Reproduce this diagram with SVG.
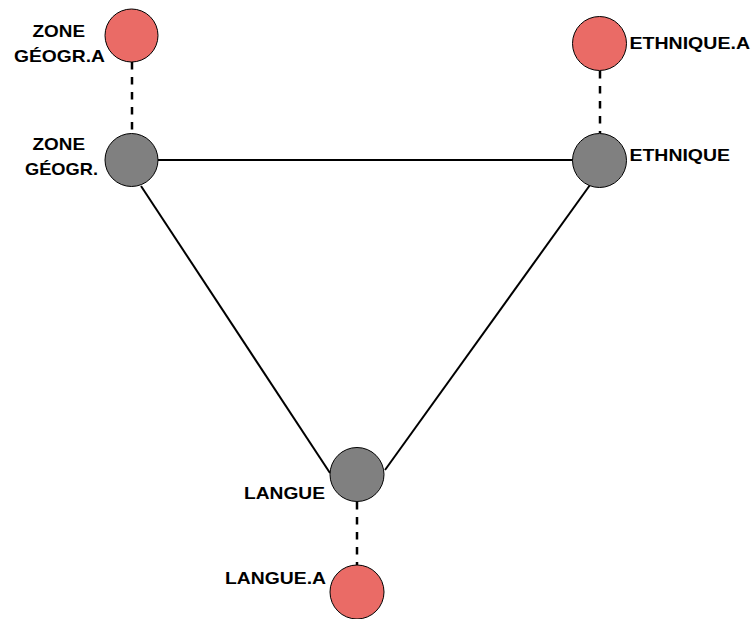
<svg xmlns="http://www.w3.org/2000/svg" width="751" height="619" viewBox="0 0 751 619">
<style>
.red{fill:#EA6B66;stroke:#000;stroke-width:1}
.gray{fill:#808080;stroke:#000;stroke-width:1}
.lbl{font-family:"Liberation Sans",Arial,sans-serif;font-weight:bold;font-size:17px;fill:#000}
.solid{stroke:#000;stroke-width:2;fill:none}
.dash{stroke:#000;stroke-width:2.5;stroke-dasharray:7.5 7.5;fill:none}
</style>
<rect width="751" height="619" fill="#fff"/>
<g id="connectors">
<line class="solid" x1="158" y1="160" x2="573" y2="160"/>
<line class="solid" x1="141" y1="186" x2="330" y2="473"/>
<line class="solid" x1="590" y1="185" x2="385" y2="470"/>
<line class="dash" x1="132" y1="62" x2="132" y2="133"/>
<line class="dash" x1="600" y1="71" x2="600" y2="133"/>
<line class="dash" x1="357" y1="502" x2="357" y2="565"/>
</g>
<g id="zone_a">
<circle class="red" cx="131.5" cy="35.5" r="26.5"/>
<text class="lbl" x="32.5" y="37" textLength="52.5" lengthAdjust="spacingAndGlyphs">ZONE</text>
<text class="lbl" x="14" y="61.5" textLength="91" lengthAdjust="spacingAndGlyphs">GÉOGR.A</text>
</g>
<g id="zone">
<circle class="gray" cx="131.5" cy="160" r="26.5"/>
<text class="lbl" x="32.5" y="150" textLength="52.5" lengthAdjust="spacingAndGlyphs">ZONE</text>
<text class="lbl" x="25" y="175" textLength="73" lengthAdjust="spacingAndGlyphs">GÉOGR.</text>
</g>
<g id="ethnique_a">
<circle class="red" cx="599.5" cy="43.5" r="27"/>
<text class="lbl" x="629.5" y="49" textLength="120.5" lengthAdjust="spacingAndGlyphs">ETHNIQUE.A</text>
</g>
<g id="ethnique">
<circle class="gray" cx="599.5" cy="160.5" r="27"/>
<text class="lbl" x="629.5" y="161" textLength="100.5" lengthAdjust="spacingAndGlyphs">ETHNIQUE</text>
</g>
<g id="langue">
<circle class="gray" cx="357" cy="474.5" r="27"/>
<text class="lbl" x="244" y="498.5" textLength="81" lengthAdjust="spacingAndGlyphs">LANGUE</text>
</g>
<g id="langue_a">
<circle class="red" cx="357" cy="592" r="27"/>
<text class="lbl" x="225" y="583.5" textLength="101" lengthAdjust="spacingAndGlyphs">LANGUE.A</text>
</g>
</svg>
